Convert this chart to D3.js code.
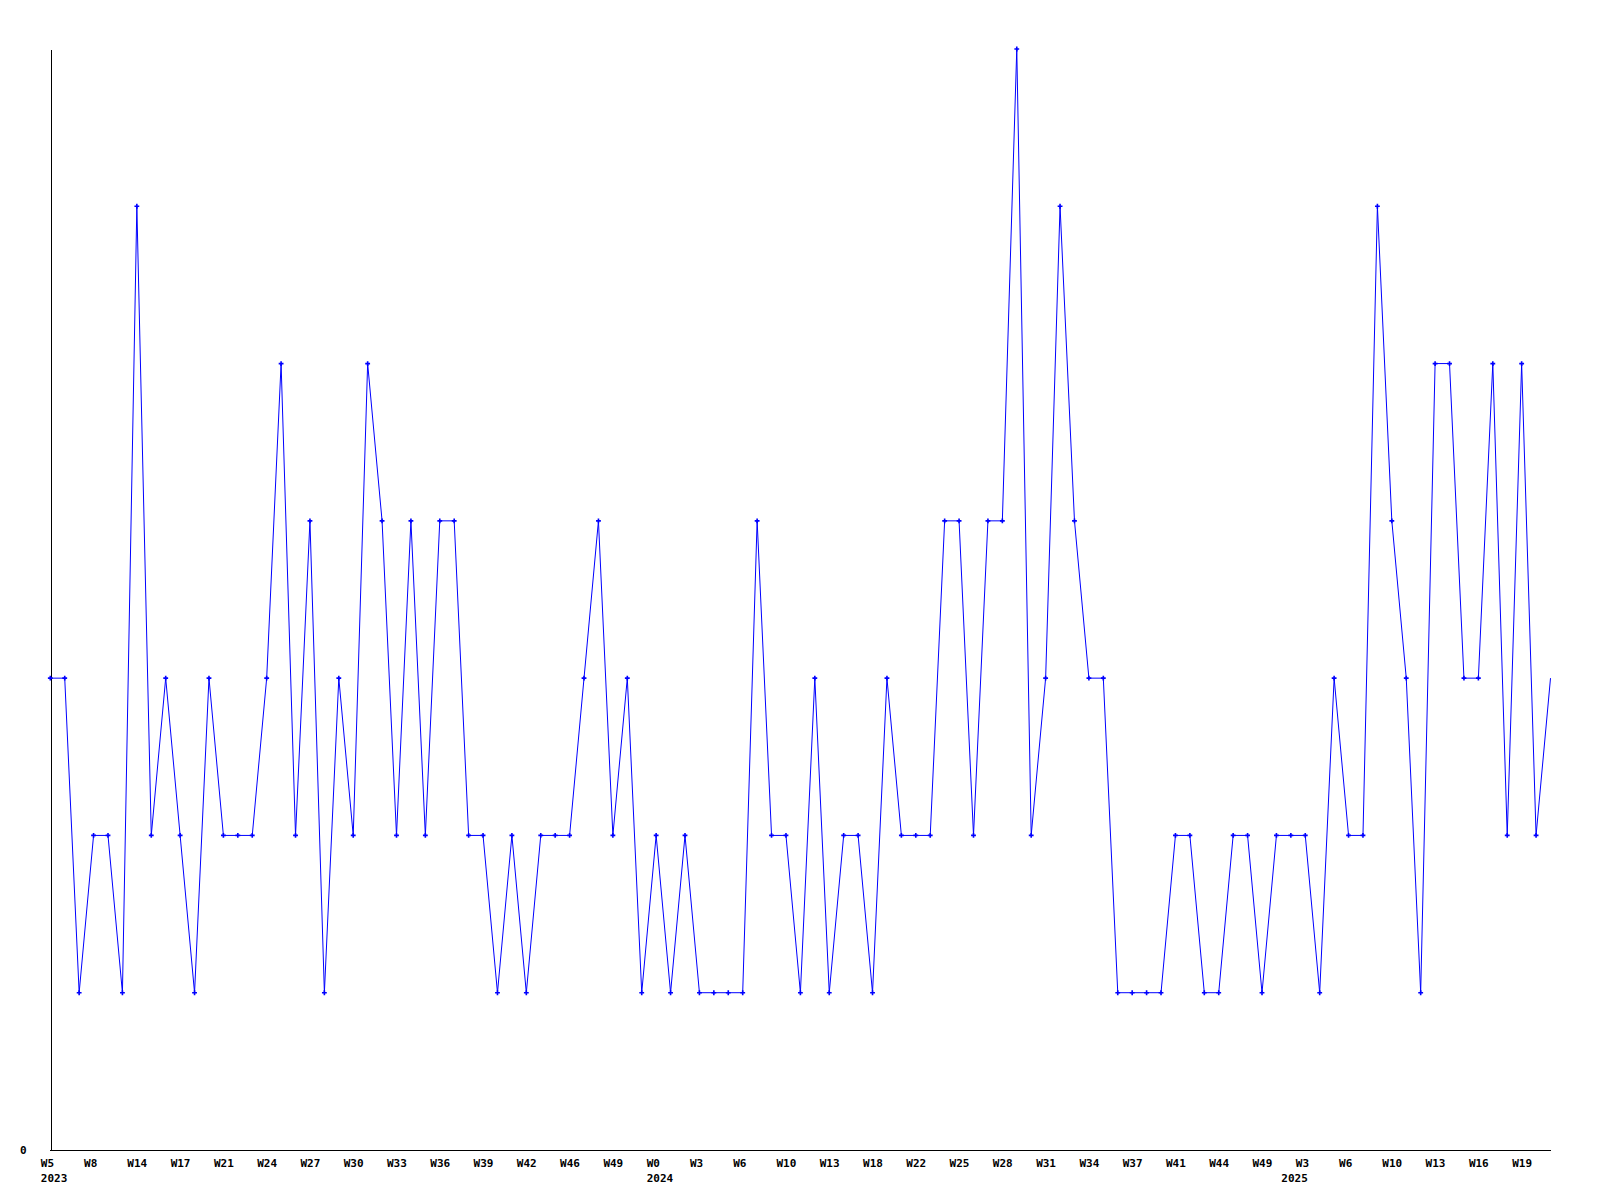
<!DOCTYPE html>
<html>
<head>
<meta charset="utf-8">
<script src="https://cdn.jsdelivr.net/npm/d3@7"></script>
<style>
  html, body { margin: 0; padding: 0; background: #fff; }
  svg { display: block; }
  text { font-family: "DejaVu Sans Mono", "Liberation Mono", monospace; font-weight: bold; font-size: 11px; fill: #000; }
</style>
</head>
<body>
<svg id="chart" width="1600" height="1200"></svg>
<script>
// Weekly values, one per point (105 points)
const values = [
  3,3,1,2,2,1,6,2,3,2,
  1,3,2,2,2,3,5,2,4,1,
  3,2,5,4,2,4,2,4,4,2,
  2,1,2,1,2,2,2,3,4,2,
  3,1,2,1,2,1,1,1,1,4,
  2,2,1,3,1,2,2,1,3,2,
  2,2,4,4,2,4,4,7,2,3,
  6,4,3,3,1,1,1,1,2,2,
  1,1,2,2,1,2,2,2,1,3,
  2,2,6,4,3,1,5,5,3,3,
  5,2,5,2,3
];
// Week tick labels shown on every third point
const weekTickLabels = ["W5","W8","W14","W17","W21","W24","W27","W30","W33","W36","W39","W42","W46","W49",
  "W0","W3","W6","W10","W13","W18","W22","W25","W28","W31","W34","W37","W41","W44","W49",
  "W3","W6","W10","W13","W16","W19"];
const weekTickStep = 3;
// Year labels and the point index where each year begins
const yearLabels = ["2023","2024","2025"];
const yearStartIndex = [0, 42, 86];
const yTickValues = [0];
const yMax = 7;

(function () {
const svg = d3.select("#chart");
const mLeft = 50, mRight = 1550.5, mTop = 49, mBottom = 1150;

const x = d3.scaleLinear().domain([0, values.length - 1]).range([mLeft + 0.3, mRight]);
const y = d3.scaleLinear().domain([0, yMax]).range([mBottom, mTop]);

// X axis: week labels
const weekTickIdx = weekTickLabels.map((_, i) => i * weekTickStep);
const gx = svg.append("g")
  .attr("transform", `translate(0,${mBottom + 0.5})`)
  .call(d3.axisBottom(x).tickValues(weekTickIdx)
    .tickFormat((d, i) => weekTickLabels[i]).tickSize(0).tickSizeOuter(0));
gx.attr("font-size", null).attr("font-family", null);
gx.select(".domain").attr("stroke", "#000").attr("shape-rendering", "crispEdges")
  .attr("d", `M${mLeft},0H${mRight}`);
gx.selectAll("text").attr("text-anchor", "start").attr("dx", -10).attr("y", 16.5).attr("dy", null);

// Year labels
const gyear = svg.append("g")
  .attr("transform", `translate(0,${mBottom + 0.5})`)
  .call(d3.axisBottom(x).tickValues(yearStartIndex)
    .tickFormat((d, i) => yearLabels[i]).tickSize(0).tickSizeOuter(0));
gyear.attr("font-size", null).attr("font-family", null);
gyear.select(".domain").remove();
gyear.selectAll("text").attr("text-anchor", "start").attr("dx", -10).attr("y", 31).attr("dy", null);

// Y axis
const gy = svg.append("g")
  .attr("transform", `translate(${mLeft + 0.5},0)`)
  .call(d3.axisLeft(y).tickValues(yTickValues).tickFormat(d3.format("d")).tickSize(0).tickSizeOuter(0));
gy.attr("font-size", null).attr("font-family", null);
gy.select(".domain").attr("stroke", "#000").attr("shape-rendering", "crispEdges");
gy.selectAll("text").attr("x", -24).attr("dy", "0.35em").attr("text-anchor", "end");

// Line
const line = d3.line().x((d, i) => x(i)).y(d => y(d));
svg.append("path")
  .datum(values)
  .attr("fill", "none")
  .attr("stroke", "#0000ff")
  .attr("stroke-width", 1)
  .attr("d", line);

// Markers (all but the trailing point)
svg.append("g").selectAll("path")
  .data(values.slice(0, values.length - 1))
  .join("path")
  .attr("transform", (d, i) => `translate(${x(i)},${y(d)})`)
  .attr("d", d3.symbol(d3.symbolCross, 13))
  .attr("fill", "#0000ff");
})();
</script>
</body>
</html>
